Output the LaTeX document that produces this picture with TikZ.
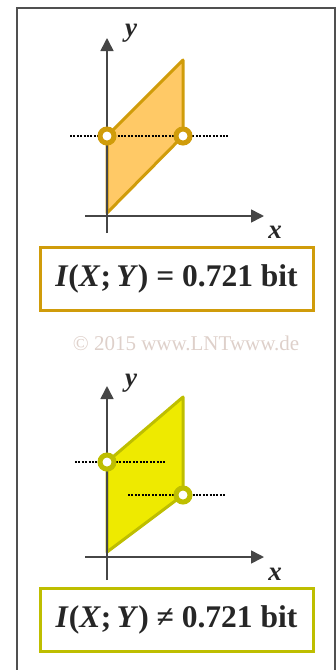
\documentclass[tikz,border=0pt]{standalone}
\usepackage{fontspec}
\setmainfont{Liberation Serif}
\usetikzlibrary{arrows.meta}
\definecolor{goldline}{RGB}{208,156,10}
\definecolor{goldfill}{RGB}{255,201,102}
\definecolor{oliveline}{RGB}{190,190,0}
\definecolor{yelfill}{RGB}{238,234,0}
\definecolor{axisgray}{RGB}{70,70,70}
\definecolor{copygray}{RGB}{222,208,202}
\definecolor{framegray}{RGB}{80,80,80}
\tikzset{
  axisline/.style={draw=axisgray, line width=1.6pt, -{Triangle[length=13pt,width=13pt]}},
  axislabel/.style={font=\fontsize{27}{27}\selectfont\bfseries\itshape, text=black!85, inner sep=0pt},
  dotline/.style={draw=black, line width=1.2pt, dash pattern=on 2pt off 1.4pt},
  ringnode/.style={circle, fill=white, line width=5pt, inner sep=0pt, minimum size=14pt},
  resultbox/.style={rectangle, fill=white, line width=3pt, minimum width=273pt, minimum height=63pt, inner sep=0pt, font=\fontsize{31.5}{32}\selectfont\bfseries, text=black!85},
}
\begin{document}
\begin{tikzpicture}[x=1pt,y=-1pt]
\useasboundingbox (0,0) rectangle (336,670);
% frame
\coordinate (fbl) at (17,672);
\coordinate (ftl) at (17,8);
\coordinate (ftr) at (335,8);
\coordinate (fbr) at (335,672);
\draw[framegray, line width=2pt] (fbl) -- (ftl) -- (ftr) -- (fbr);

% ---------- top panel ----------
\coordinate (a1) at (107,213);
\coordinate (a2) at (107,136);
\coordinate (a3) at (183,60);
\coordinate (a4) at (183,136);
\draw[goldline, fill=goldfill, line width=3pt, line join=round] (a1) -- (a2) -- (a3) -- (a4) -- cycle;
\coordinate (ty0) at (107,233);
\coordinate (ty1) at (107,38);
\coordinate (tx0) at (85,216);
\coordinate (tx1) at (264,216);
\draw[axisline] (ty0) -- (ty1);
\draw[axisline] (tx0) -- (tx1);
\node[axislabel] (tylab) at (131,33) {y};
\node[axislabel] (txlab) at (275,232) {x};
\coordinate (td0) at (70,136);
\coordinate (td1) at (228,136);
\draw[dotline] (td0) -- (td1);
\node[ringnode, draw=goldline] (tc1) at (a2) {};
\node[ringnode, draw=goldline] (tc2) at (a4) {};
\node[resultbox, draw=goldline] (tbox) at (176.5,278.5) {\textit{I}(\textit{X};\,\textit{Y}) = 0.721 bit};

% copyright
\node[font=\fontsize{21}{22}\selectfont, text=copygray, inner sep=0pt] (copy) at (186,343) {© 2015 www.LNTwww.de};

% ---------- bottom panel ----------
\coordinate (b1) at (107,552);
\coordinate (b2) at (107,462);
\coordinate (b3) at (183,397);
\coordinate (b4) at (183,495);
\draw[oliveline, fill=yelfill, line width=3pt, line join=round] (b1) -- (b2) -- (b3) -- (b4) -- cycle;
\coordinate (by0) at (107,580);
\coordinate (by1) at (107,386);
\coordinate (bx0) at (85,557);
\coordinate (bx1) at (264,557);
\draw[axisline] (by0) -- (by1);
\draw[axisline] (bx0) -- (bx1);
\node[axislabel] (bylab) at (131,383) {y};
\node[axislabel] (bxlab) at (275,574) {x};
\coordinate (bd0) at (75,462);
\coordinate (bd1) at (165,462);
\coordinate (bd2) at (128,495);
\coordinate (bd3) at (225,495);
\draw[dotline] (bd0) -- (bd1);
\draw[dotline] (bd2) -- (bd3);
\node[ringnode, draw=oliveline] (bc1) at (b2) {};
\node[ringnode, draw=oliveline] (bc2) at (b4) {};
\node[resultbox, draw=oliveline] (bbox) at (176.5,619.5) {\textit{I}(\textit{X};\,\textit{Y}) ≠ 0.721 bit};
\end{tikzpicture}
\end{document}
